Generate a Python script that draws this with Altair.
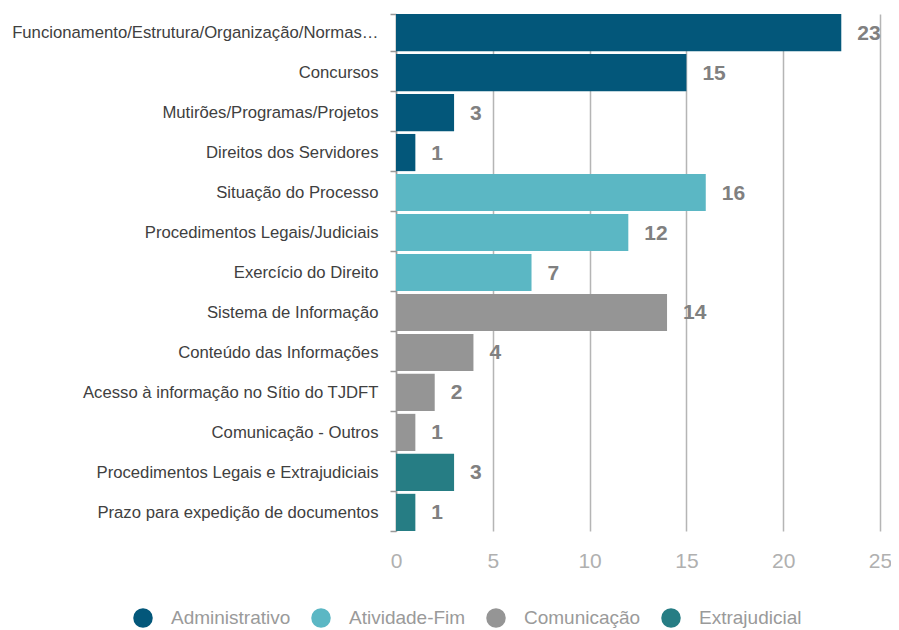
import altair as alt
import pandas as pd

categories = [
    "Funcionamento/Estrutura/Organização/Normas…",
    "Concursos",
    "Mutirões/Programas/Projetos",
    "Direitos dos Servidores ",
    "Situação do Processo",
    "Procedimentos Legais/Judiciais",
    "Exercício do Direito",
    "Sistema de Informação",
    "Conteúdo das Informações",
    "Acesso à informação no Sítio do TJDFT",
    "Comunicação - Outros",
    "Procedimentos Legais e Extrajudiciais",
    "Prazo para expedição de documentos",
]
values = [23, 15, 3, 1, 16, 12, 7, 14, 4, 2, 1, 3, 1]
groups = ["Administrativo"] * 4 + ["Atividade-Fim"] * 3 + ["Comunicação"] * 4 + ["Extrajudicial"] * 2
group_names = ["Administrativo", "Atividade-Fim", "Comunicação", "Extrajudicial"]
group_colors = ["#03577a", "#5bb7c4", "#959595", "#267d84"]

df = pd.DataFrame({"cat": categories, "val": values, "grp": groups})

FONT = "Liberation Sans Narrow, Arial Narrow, Liberation Sans, sans-serif"

y = alt.Y("cat:N", sort=categories, title=None,
          scale=alt.Scale(paddingInner=0.07, paddingOuter=0),
          axis=alt.Axis(labelFont=FONT, labelFontSize=16.7, labelColor="#404040",
                        labelPadding=12, tickBand="extent", tickSize=6,
                        tickColor="#999999", domainColor="#999999", domainWidth=1.5,
                        tickWidth=1.5, labelLimit=400))
x = alt.X("val:Q", title=None,
          scale=alt.Scale(domain=[0, 25], nice=False),
          axis=alt.Axis(values=[0, 5, 10, 15, 20, 25], grid=True, gridColor="#b5b5b5",
                        gridWidth=1.5, domain=False, ticks=False, labelFont=FONT,
                        labelFlush=False,
                        labelFontSize=21, labelColor="#b0b0b0", labelPadding=19))

bars = alt.Chart(df).mark_bar().encode(
    y=y, x=x,
    color=alt.Color("grp:N", scale=alt.Scale(domain=group_names, range=group_colors),
                    legend=alt.Legend(orient="none", legendX=-263, legendY=594,
                                      direction="horizontal", title=None,
                                      symbolType="circle", symbolSize=380,
                                      symbolStrokeWidth=0, labelFont=FONT,
                                      labelFontSize=19, labelColor="#9a9a9a",
                                      labelOffset=18, columnPadding=20)),
)

text = alt.Chart(df).mark_text(align="left", dx=16, dy=1, fontSize=21, fontWeight="bold",
                               color="#808080", font=FONT).encode(
    y=alt.Y("cat:N", sort=categories), x="val:Q", text="val:Q")

chart = (bars + text).properties(
    width=484, height=517,
    autosize=alt.AutoSizeParams(type="none"),
    padding={"left": 388, "top": 6, "right": 11, "bottom": 98},
).configure_view(stroke=None)

chart.save("out.html", embed_options={"renderer": "svg", "actions": False})
